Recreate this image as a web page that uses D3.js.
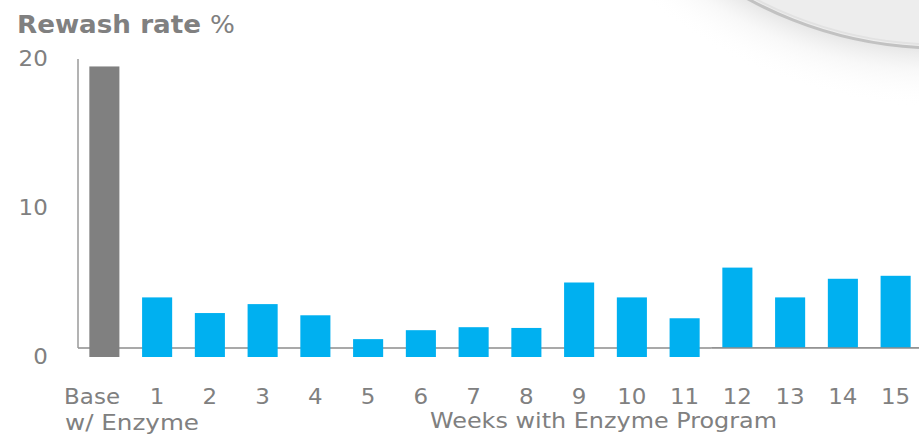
<!DOCTYPE html>
<html>
<head>
<meta charset="utf-8">
<script src="https://cdn.jsdelivr.net/npm/d3@7"></script>
<style>
  body { margin: 0; background: #fff; }
  svg { display: block; font-family: "DejaVu Sans", Verdana, sans-serif; }
</style>
</head>
<body>
<div id="chart"></div>
<script>
// chart data
var categories = ["Base", "1", "2", "3", "4", "5", "6", "7", "8", "9", "10", "11", "12", "13", "14", "15"];
var rewashRate = [19.5, 4.0, 2.95, 3.55, 2.8, 1.2, 1.8, 2.0, 1.95, 5.0, 4.0, 2.6, 6.0, 4.0, 5.25, 5.45];
var yTicks = [0, 10, 20];

var svgWidth = 919;
var svgHeight = 437;
var grey = "#808080";

var svg = d3.select("#chart")
  .append("svg")
  .attr("width", svgWidth)
  .attr("height", svgHeight);

// scales
var x = d3.scaleBand()
  .domain(categories)
  .range([78, 922])
  .paddingInner(0.43)
  .paddingOuter(0.215);

var y = d3.scaleLinear()
  .domain([0, 20])
  .range([357, 59]);

// decorative swoosh in the top right corner
var defs = svg.append("defs");
var shade = defs.append("radialGradient")
  .attr("id", "shade")
  .attr("gradientUnits", "userSpaceOnUse")
  .attr("cx", 940).attr("cy", -352).attr("r", 460);
shade.append("stop").attr("offset", 0.87).attr("stop-color", "#d6d6d6").attr("stop-opacity", 0.6);
shade.append("stop").attr("offset", 0.92).attr("stop-color", "#ececec").attr("stop-opacity", 0.35);
shade.append("stop").attr("offset", 1).attr("stop-color", "#ffffff").attr("stop-opacity", 0);

var inner = defs.append("linearGradient")
  .attr("id", "inner")
  .attr("x1", 0).attr("y1", 0).attr("x2", 1).attr("y2", 0);
inner.append("stop").attr("offset", 0.8).attr("stop-color", "#ededed");
inner.append("stop").attr("offset", 0.9).attr("stop-color", "#f8f8f8");
inner.append("stop").attr("offset", 1).attr("stop-color", "#efefef");

svg.append("circle")
  .attr("cx", 940).attr("cy", -352).attr("r", 460)
  .attr("fill", "url(#shade)");
svg.append("circle")
  .attr("cx", 940).attr("cy", -352).attr("r", 400)
  .attr("fill", "url(#inner)")
  .attr("stroke", "#c2c2c2")
  .attr("stroke-width", 3);
svg.append("circle")
  .attr("cx", 940).attr("cy", -352).attr("r", 396.5)
  .attr("fill", "none")
  .attr("stroke", "#e2e2e2")
  .attr("stroke-width", 2);

// title
var title = svg.append("text")
  .attr("x", 17)
  .attr("y", 33)
  .attr("fill", grey)
  .attr("textLength", 218)
  .attr("lengthAdjust", "spacingAndGlyphs")
  .style("font-size", "24.5px");
title.append("tspan").attr("font-weight", "bold").text("Rewash rate ");
title.append("tspan").text("%");

// axis lines (the horizontal one sits a little above the bar base)
var lineY = y(0) - 9;
svg.append("line")
  .attr("x1", x.range()[0]).attr("x2", svgWidth)
  .attr("y1", lineY).attr("y2", lineY)
  .attr("stroke", "#8c8c8c")
  .attr("stroke-width", 1.5);

// bars
svg.selectAll("rect.bar")
  .data(rewashRate)
  .enter()
  .append("rect")
  .attr("class", "bar")
  .attr("x", (d, i) => x(categories[i]))
  .attr("y", d => y(d))
  .attr("width", x.bandwidth())
  .attr("height", d => y(0) - y(d))
  .attr("fill", (d, i) => i === 0 ? grey : "#00b0f0");

// the last bars are cut at the axis line in the original
var cutX = x("12") - x.step() * 0.2;
svg.append("rect")
  .attr("x", cutX).attr("y", lineY)
  .attr("width", svgWidth - cutX).attr("height", y(0) - lineY + 1)
  .attr("fill", "#fff");
svg.append("line")
  .attr("x1", cutX).attr("x2", svgWidth)
  .attr("y1", lineY).attr("y2", lineY)
  .attr("stroke", "#8c8c8c")
  .attr("stroke-width", 1.5);

svg.append("line")
  .attr("x1", x.range()[0]).attr("x2", x.range()[0])
  .attr("y1", y(20)).attr("y2", lineY)
  .attr("stroke", "#9a9a9a")
  .attr("stroke-width", 1.5);

// the labels in the original are a wide font, so glyphs are stretched a bit
var labelFont = "20.5px";
var stretch = 1.12;

// y axis labels
var yAxis = svg.append("g")
  .attr("transform", "translate(78,0)")
  .call(d3.axisLeft(y).tickValues(yTicks).tickSize(0).tickPadding(27));
yAxis.select(".domain").remove();
yAxis.selectAll("text")
  .attr("fill", grey)
  .attr("transform", "scale(" + stretch + ",1)")
  .style("font-size", labelFont)
  .style("font-family", "DejaVu Sans, Verdana, sans-serif");

// x axis labels
var xAxis = svg.append("g")
  .attr("transform", "translate(0," + y(0) + ")")
  .call(d3.axisBottom(x).tickSize(0).tickPadding(32));
xAxis.select(".domain").remove();
xAxis.selectAll("text")
  .attr("fill", grey)
  .attr("transform", "scale(" + stretch + ",1)")
  .style("font-size", labelFont)
  .style("font-family", "DejaVu Sans, Verdana, sans-serif")
  .attr("dx", d => d === "Base" ? -11 : 0);

svg.append("text")
  .attr("x", 65)
  .attr("y", 430)
  .attr("fill", grey)
  .attr("textLength", 134)
  .attr("lengthAdjust", "spacingAndGlyphs")
  .style("font-size", labelFont)
  .text("w/ Enzyme");

svg.append("text")
  .attr("x", 430)
  .attr("y", 428)
  .attr("fill", grey)
  .attr("textLength", 347)
  .attr("lengthAdjust", "spacingAndGlyphs")
  .style("font-size", labelFont)
  .text("Weeks with Enzyme Program");
</script>
</body>
</html>
